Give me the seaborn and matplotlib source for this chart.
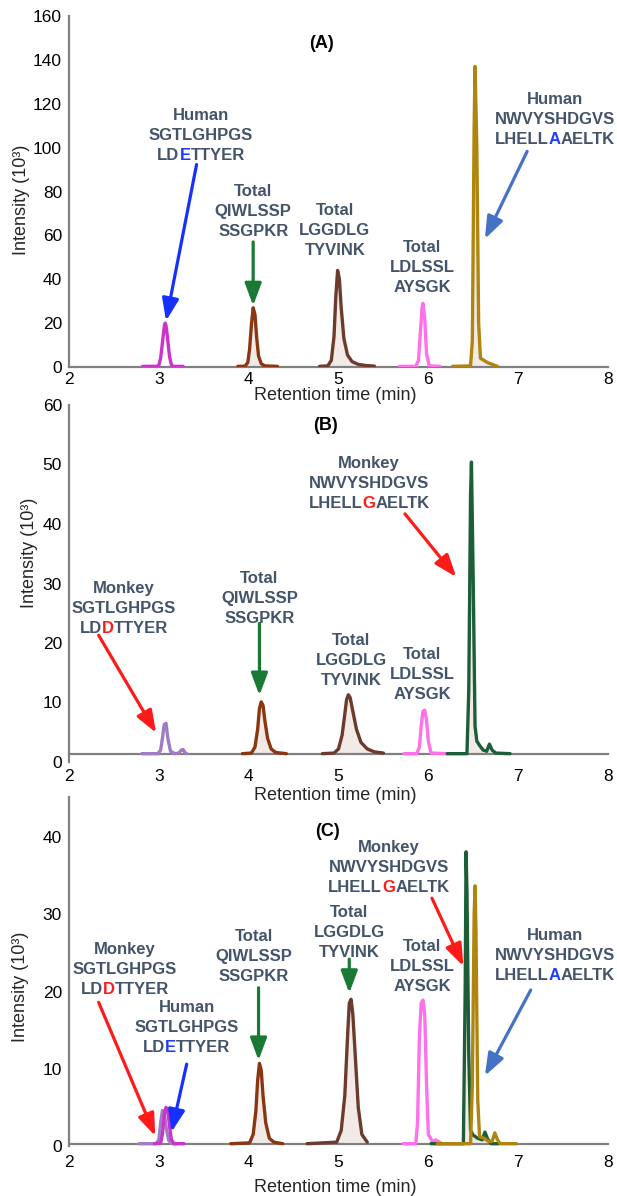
import matplotlib
matplotlib.use("Agg")
import matplotlib.pyplot as plt
import matplotlib.transforms as mtrans
import seaborn as sns
from matplotlib.font_manager import FontProperties
from matplotlib.ticker import MultipleLocator

# ---------------- data ----------------
# Panel A
A_mag_t = [2.82, 2.98, 3.00, 3.02, 3.04, 3.06, 3.07, 3.08, 3.10, 3.12, 3.14, 3.16, 3.27]
A_mag_y = [0.3, 0.3, 0.8, 4.0, 11.0, 18.5, 20.0, 19.0, 12.0, 4.5, 1.0, 0.3, 0.3]
A_rust_t = [3.88, 3.96, 3.99, 4.01, 4.03, 4.05, 4.07, 4.09, 4.11, 4.14, 4.18, 4.32]
A_rust_y = [0.3, 0.4, 2.0, 8.0, 19.0, 27.0, 24.0, 13.0, 5.0, 1.5, 0.5, 0.3]
A_dbr_t = [4.79, 4.88, 4.92, 4.95, 4.97, 4.99, 5.01, 5.03, 5.06, 5.10, 5.15, 5.22, 5.30, 5.40]
A_dbr_y = [0.3, 0.5, 3.0, 14.0, 32.0, 44.0, 40.0, 27.0, 13.0, 5.5, 2.5, 1.2, 0.7, 0.4]
A_pink_t = [5.68, 5.86, 5.89, 5.91, 5.93, 5.94, 5.96, 5.98, 6.01, 6.13]
A_pink_y = [0.3, 0.3, 3.0, 15.0, 27.0, 29.0, 22.0, 6.0, 0.5, 0.3]
A_gold_t = [6.27, 6.47, 6.49, 6.51, 6.52, 6.54, 6.56, 6.58, 6.62, 6.66, 6.77]
A_gold_y = [0.3, 0.5, 12.0, 110.0, 137.0, 100.0, 20.0, 4.0, 3.0, 2.0, 0.3]

# Panel B
B_lav_t = [2.81, 2.99, 3.02, 3.04, 3.06, 3.08, 3.10, 3.13, 3.18, 3.22, 3.25, 3.27, 3.29, 3.31]
B_lav_y = [1.4, 1.4, 2.0, 4.0, 6.3, 6.5, 4.0, 1.8, 1.4, 1.5, 2.0, 2.1, 1.6, 1.4]
B_rust_t = [3.93, 4.03, 4.07, 4.10, 4.12, 4.14, 4.16, 4.18, 4.21, 4.25, 4.30, 4.42]
B_rust_y = [1.4, 1.5, 2.5, 5.5, 9.0, 10.1, 9.5, 7.0, 4.0, 2.2, 1.6, 1.4]
B_dbr_t = [4.82, 4.95, 5.00, 5.04, 5.07, 5.09, 5.11, 5.13, 5.16, 5.20, 5.25, 5.32, 5.40, 5.50]
B_dbr_y = [1.4, 1.5, 2.2, 4.5, 8.0, 10.5, 11.3, 10.8, 8.5, 5.5, 3.3, 2.2, 1.7, 1.5]
B_pink_t = [5.73, 5.87, 5.90, 5.92, 5.94, 5.96, 5.98, 6.00, 6.03, 6.21]
B_pink_y = [1.4, 1.4, 2.5, 6.0, 8.5, 8.7, 7.0, 3.5, 1.5, 1.4]
B_grn_t = [6.21, 6.43, 6.45, 6.47, 6.48, 6.50, 6.52, 6.54, 6.57, 6.61, 6.65, 6.68, 6.71, 6.75, 6.91]
B_grn_y = [1.4, 1.4, 12.0, 45.0, 50.4, 30.0, 6.0, 3.5, 2.8, 2.0, 1.8, 3.0, 2.0, 1.5, 1.4]

# Panel C
C_lav_t = [2.78, 2.97, 3.00, 3.02, 3.04, 3.06, 3.08, 3.11, 3.15, 3.20]
C_lav_y = [0.3, 0.3, 0.8, 3.0, 4.6, 4.4, 2.5, 0.7, 0.3, 0.3]
C_mag_t = [2.95, 3.02, 3.04, 3.06, 3.08, 3.10, 3.12, 3.14, 3.17, 3.28]
C_mag_y = [0.3, 0.4, 1.5, 4.0, 5.0, 4.6, 2.5, 0.8, 0.3, 0.3]
C_rust_t = [3.80, 4.01, 4.05, 4.08, 4.10, 4.12, 4.14, 4.16, 4.19, 4.23, 4.28, 4.38]
C_rust_y = [0.3, 0.4, 1.5, 4.5, 8.5, 10.7, 9.8, 6.5, 3.0, 1.0, 0.5, 0.3]
C_dbr_t = [4.65, 4.98, 5.03, 5.07, 5.10, 5.12, 5.14, 5.16, 5.19, 5.22, 5.26, 5.32]
C_dbr_y = [0.3, 0.5, 2.0, 6.5, 14.0, 18.5, 19.0, 17.0, 11.0, 5.0, 1.5, 0.5]
C_pink_t = [5.72, 5.86, 5.88, 5.90, 5.92, 5.94, 5.96, 5.98, 6.00, 6.05, 6.08, 6.11, 6.15]
C_pink_y = [0.3, 0.3, 3.0, 14.0, 18.5, 18.9, 17.0, 8.0, 1.5, 0.5, 0.8, 0.6, 0.3]
C_grn_t = [6.03, 6.39, 6.41, 6.42, 6.43, 6.45, 6.47, 6.50, 6.55, 6.60, 6.63, 6.66, 6.70, 6.78]
C_grn_y = [0.3, 0.3, 20.0, 38.1, 33.0, 12.0, 2.0, 1.4, 1.0, 0.8, 1.8, 0.9, 0.3, 0.3]
C_gold_t = [6.10, 6.47, 6.49, 6.51, 6.52, 6.53, 6.55, 6.57, 6.62, 6.67, 6.71, 6.74, 6.77, 6.80, 6.98]
C_gold_y = [0.3, 0.3, 8.0, 30.0, 33.7, 28.0, 6.0, 1.2, 1.0, 0.6, 0.6, 1.7, 0.8, 0.3, 0.3]

x_ticks = [2, 3, 4, 5, 6, 7, 8]
A_yticks = [0, 20, 40, 60, 80, 100, 120, 140, 160]
B_yticks = [0, 10, 20, 30, 40, 50, 60]
C_yticks = [0, 10, 20, 30, 40]

# label texts
HUMAN_SG = ["Human", "SGTLGHPGS", ("LD", "E", "TTYER", "blue")]
MONKEY_SG = ["Monkey", "SGTLGHPGS", ("LD", "D", "TTYER", "red")]
HUMAN_NW = ["Human", "NWVYSHDGVS", ("LHELL", "A", "AELTK", "blue")]
MONKEY_NW = ["Monkey", "NWVYSHDGVS", ("LHELL", "G", "AELTK", "red")]
TOT_QI = ["Total", "QIWLSSP", "SSGPKR"]
TOT_LG = ["Total", "LGGDLG", "TYVINK"]
TOT_LD = ["Total", "LDLSSL", "AYSGK"]

# ---------------- style ----------------
sns.set_style("white")
FAMILY = ["Liberation Sans", "DejaVu Sans"]
plt.rcParams["font.family"] = FAMILY

MAG = "#cc33cc"; RUST = "#8b3612"; DBR = "#6b3b2d"; PINK = "#ff70ea"
GOLD = "#b0850f"; DGRN = "#1b5e38"; LAV = "#a07cc5"
FILL = "#f2eae6"
TXT = "#44546a"
HL = {"blue": "#1f3cff", "red": "#ff1a1a"}
AR_BLUE = "#1530ff"; AR_GRN = "#1a7a35"; AR_STEEL = "#4472c4"; AR_RED = "#ff1a1a"
SPINE = "#808080"

W, H = 617, 1196
fig = plt.figure(figsize=(W / 100, H / 100), dpi=100)
fig.patch.set_facecolor("white")
renderer = fig.canvas.get_renderer()


def axes_px(left, right, top, bottom):
    return fig.add_axes([left / W, (H - bottom) / H, (right - left) / W, (bottom - top) / H])


axA = axes_px(69, 608, 16, 367)
axB = axes_px(69, 608, 405, 762)
axC = axes_px(69, 608, 797, 1146)


def style(ax, ylim, yticks, yminor, spine_y, xpad, xlab_y, ylab_x, ylab_y):
    ax.set_xlim(2, 8)
    ax.set_ylim(*ylim)
    ax.set_xticks(x_ticks)
    ax.set_yticks(yticks)
    ax.xaxis.set_minor_locator(MultipleLocator(0.2))
    ax.yaxis.set_minor_locator(MultipleLocator(yminor))
    for s in ["top", "right"]:
        ax.spines[s].set_visible(False)
    for s in ["left", "bottom"]:
        ax.spines[s].set_color(SPINE)
        ax.spines[s].set_linewidth(1.6)
    ax.spines["bottom"].set_position(("data", spine_y))
    ax.tick_params(which="major", direction="inout", length=7, width=1.1, color=SPINE,
                   labelsize=12.5, labelcolor="black")
    ax.tick_params(which="minor", direction="inout", length=4.5, width=1.0, color=SPINE)
    ax.tick_params(axis="x", which="major", pad=xpad)
    ax.tick_params(axis="y", which="major", pad=1.5)
    ax.set_xlabel("Retention time (min)", fontsize=13)
    ax.xaxis.set_label_coords(0.494, xlab_y)
    ax.set_ylabel("Intensity (10³)", fontsize=13)
    ax.yaxis.set_label_coords(ylab_x, ylab_y)
    ax.patch.set_alpha(0.0)
    ax.grid(False)


style(axA, (0, 160), A_yticks, 5, 0, 0.0, -0.057, -0.072, 0.477)
style(axB, (0, 60), B_yticks, 2, 1.4, 7.5, -0.069, -0.058, 0.585)
style(axC, (0, 45.2), C_yticks, 1, 0.3, 5.0, -0.095, -0.074, 0.456)


def trace(ax, t, y, color, base=None, lw=2.4, z=3):
    if base is not None:
        ax.fill_between(t, base, y, color=FILL, zorder=z - 1, lw=0)
    sns.lineplot(x=t, y=y, ax=ax, color=color, lw=lw, estimator=None, sort=False,
                 zorder=z)


trace(axA, A_mag_t, A_mag_y, MAG)
trace(axA, A_rust_t, A_rust_y, RUST, base=0.3)
trace(axA, A_dbr_t, A_dbr_y, DBR, base=0.3)
trace(axA, A_pink_t, A_pink_y, PINK)
trace(axA, A_gold_t, A_gold_y, GOLD, base=0.3)

trace(axB, B_lav_t, B_lav_y, LAV)
trace(axB, B_rust_t, B_rust_y, RUST, base=1.4)
trace(axB, B_dbr_t, B_dbr_y, DBR, base=1.4)
trace(axB, B_pink_t, B_pink_y, PINK)
trace(axB, B_grn_t, B_grn_y, DGRN, base=1.4)

trace(axC, C_lav_t, C_lav_y, LAV)
trace(axC, C_mag_t, C_mag_y, MAG)
trace(axC, C_rust_t, C_rust_y, RUST, base=0.3)
trace(axC, C_dbr_t, C_dbr_y, DBR, base=0.3)
trace(axC, C_pink_t, C_pink_y, PINK)
trace(axC, C_grn_t, C_grn_y, DGRN, base=0.3)
trace(axC, C_gold_t, C_gold_y, GOLD, z=4)

FS = 12
LINE_PT = 14.4
FP = FontProperties(family=FAMILY, weight="bold", size=FS)


def wpt(s):
    w, _, _ = renderer.get_text_width_height_descent(s, FP, ismath=False)
    return w * 72.0 / fig.dpi


def put(ax, x, y, s, dx, dy, color, ha):
    tr = mtrans.offset_copy(ax.transData, fig=fig, x=dx, y=dy, units="points")
    ax.text(x, y, s, transform=tr, ha=ha, va="center", color=color, fontproperties=FP,
            zorder=6)


def label(ax, x, y, lines):
    for i, ln in enumerate(lines):
        dy = -i * LINE_PT
        if isinstance(ln, tuple):
            pre, mid, post, c = ln
            full = pre + mid + post
            x0 = -wpt(full) / 2.0
            put(ax, x, y, pre, x0, dy, TXT, "left")
            put(ax, x, y, mid, x0 + wpt(pre + mid) - wpt(mid), dy, HL[c], "left")
            put(ax, x, y, post, x0 + wpt(full) - wpt(post), dy, TXT, "left")
        else:
            put(ax, x, y, ln, 0, dy, TXT, "center")


def arrow(ax, tail, tip, color):
    ax.annotate("", xy=tip, xytext=tail,
                arrowprops=dict(arrowstyle="-|>,head_length=0.75,head_width=0.28",
                                color=color, lw=2.3, mutation_scale=18,
                                shrinkA=0, shrinkB=0),
                zorder=7)


# Panel A labels / arrows
label(axA, 3.47, 114.7, HUMAN_SG)
label(axA, 4.05, 80.0, TOT_QI)
label(axA, 4.96, 71.3, TOT_LG)
label(axA, 5.93, 54.3, TOT_LD)
label(axA, 7.41, 122.0, HUMAN_NW)
arrow(axA, (3.42, 92.3), (3.08, 21.0), AR_BLUE)
arrow(axA, (4.05, 57.0), (4.05, 28.0), AR_GRN)
arrow(axA, (7.10, 98.3), (6.63, 58.4), AR_STEEL)

# Panel B
label(axB, 5.34, 50.1, MONKEY_NW)
label(axB, 2.61, 29.2, MONKEY_SG)
label(axB, 4.12, 30.8, TOT_QI)
label(axB, 5.14, 20.5, TOT_LG)
label(axB, 5.93, 18.1, TOT_LD)
arrow(axB, (5.74, 41.7), (6.31, 31.1), AR_RED)
arrow(axB, (2.33, 21.3), (2.97, 4.9), AR_RED)
arrow(axB, (4.12, 23.3), (4.12, 11.2), AR_GRN)

# Panel C
label(axC, 5.56, 38.7, MONKEY_NW)
label(axC, 5.12, 30.3, TOT_LG)
label(axC, 5.93, 25.8, TOT_LD)
label(axC, 4.06, 27.1, TOT_QI)
label(axC, 2.62, 25.5, MONKEY_SG)
label(axC, 3.31, 17.9, HUMAN_SG)
label(axC, 7.41, 27.3, HUMAN_NW)
arrow(axC, (6.04, 32.1), (6.39, 23.3), AR_RED)
arrow(axC, (5.12, 24.2), (5.12, 19.8), AR_GRN)
arrow(axC, (4.11, 20.5), (4.11, 11.1), AR_GRN)
arrow(axC, (2.33, 18.6), (2.96, 1.3), AR_RED)
arrow(axC, (3.31, 10.6), (3.14, 1.8), AR_BLUE)
arrow(axC, (7.14, 20.2), (6.63, 9.1), AR_STEEL)

# panel letters
for txt, (px, py) in [("(A)", (322, 44)), ("(B)", (326, 425)), ("(C)", (327, 832))]:
    fig.text(px / W, 1 - py / H, txt, ha="center", va="center", fontsize=13,
             fontweight="bold", color="black")

fig.savefig("out.png", dpi=100, facecolor="white")
